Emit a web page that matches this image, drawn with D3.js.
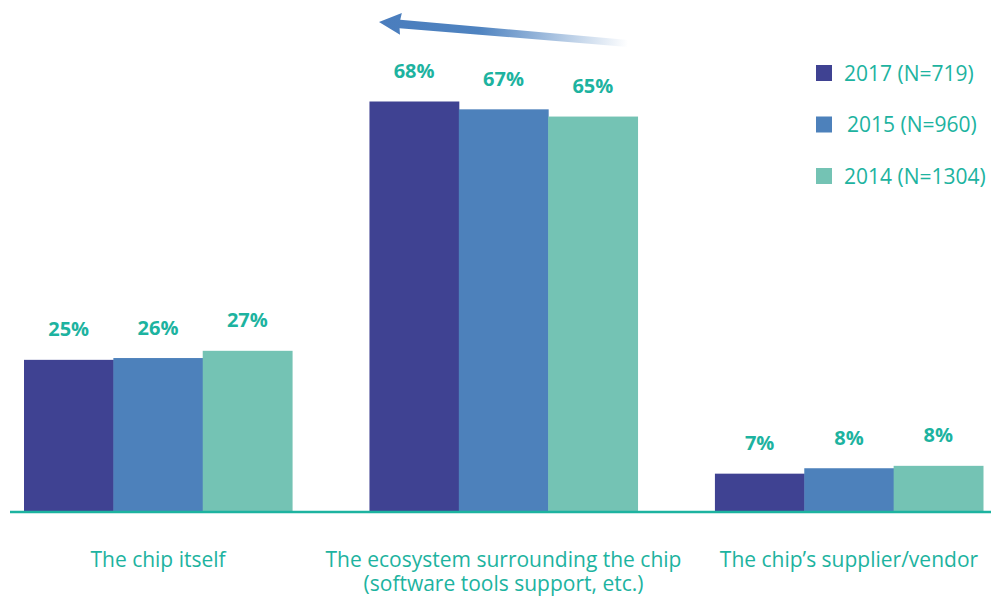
<!DOCTYPE html>
<html>
<head>
<meta charset="utf-8">
<script src="https://cdn.jsdelivr.net/npm/d3@7"></script>
<style>
  body { margin: 0; background: #fff; }
  text { font-family: "Open Sans", sans-serif; }
</style>
</head>
<body>
<div id="chart"></div>
<script>
// categories on the x axis (each can wrap onto two lines)
const categories = [
  ["The chip itself"],
  ["The ecosystem surrounding the chip", "(software tools support, etc.)"],
  ["The chip\u2019s supplier/vendor"]
]
const seriesNames = ["2017 (N=719)", "2015 (N=960)", "2014 (N=1304)"]
// bar heights
const values2017 = [25.1, 68, 6.2]
const values2015 = [25.4, 66.7, 7.1]
const values2014 = [26.6, 65.5, 7.5]
// printed labels above the bars
const labels2017 = ["25%", "68%", "7%"]
const labels2015 = ["26%", "67%", "8%"]
const labels2014 = ["27%", "65%", "8%"]

const colors = ["#3f4292", "#4d81bb", "#74c3b4"]
const teal = "#1db3a0"

var width = 991, height = 596
var baseY = 511

var svg = d3.select("#chart")
  .append("svg")
    .attr("width", width)
    .attr("height", height)

// build rows per series
var series = seriesNames.map(function(name, i) {
  var vals = [values2017, values2015, values2014][i]
  var labs = [labels2017, labels2015, labels2014][i]
  return { name: name, color: colors[i], values: vals, labels: labs }
})

var x0 = d3.scaleBand()
  .domain(d3.range(categories.length))
  .range([24, 983])
  .paddingInner(0.224)
  .paddingOuter(0)

var x1 = d3.scaleBand()
  .domain(d3.range(seriesNames.length))
  .range([0, x0.bandwidth()])
  .padding(0)

var y = d3.scaleLinear()
  .domain([0, 68])
  .range([baseY, 101.5])

// gradient for the trend arrow (local coords of the rotated group)
var defs = svg.append("defs")
var grad = defs.append("linearGradient")
  .attr("id", "arrowGrad")
  .attr("gradientUnits", "userSpaceOnUse")
  .attr("x1", 0).attr("y1", 0)
  .attr("x2", 250).attr("y2", 0)
grad.append("stop").attr("offset", "0%").attr("stop-color", "#4a7dbd")
grad.append("stop").attr("offset", "40%").attr("stop-color", "#4f83c0")
grad.append("stop").attr("offset", "100%").attr("stop-color", "#4f83c0").attr("stop-opacity", 0)

// arrow: shaft + head, slightly tilted
var arrow = svg.append("g")
  .attr("transform", "translate(379,22) rotate(4.8)")
arrow.append("path")
  .attr("d", "M0,0 L22,-11 L21,-4 L250,-3 L250,4 L21,4.5 L22,11 Z")
  .attr("fill", "url(#arrowGrad)")

// bars
var groups = svg.selectAll(".grp")
  .data(series)
  .enter()
  .append("g")
    .attr("class", "grp")

groups.each(function(s, si) {
  var g = d3.select(this)
  g.selectAll("rect")
    .data(s.values)
    .enter()
    .append("rect")
      .attr("x", function(d, ci) { return x0(ci) + x1(si) })
      .attr("y", function(d) { return y(d) })
      .attr("width", x1.bandwidth() + 0.5)
      .attr("height", function(d) { return baseY - y(d) })
      .attr("fill", s.color)

  g.selectAll("text")
    .data(s.values)
    .enter()
    .append("text")
      .attr("x", function(d, ci) { return x0(ci) + x1(si) + x1.bandwidth() / 2 })
      .attr("y", function(d) { return y(d) - 23.5 })
      .attr("text-anchor", "middle")
      .style("font-size", "20px")
      .style("font-weight", "bold")
      .style("fill", teal)
      .text(function(d, ci) { return s.labels[ci] })
})

// baseline
svg.append("line")
  .attr("x1", 10).attr("x2", 991)
  .attr("y1", baseY + 1).attr("y2", baseY + 1)
  .attr("stroke", teal)
  .attr("stroke-width", 2.5)

// category labels
categories.forEach(function(lines, ci) {
  var t = svg.append("text")
    .attr("x", x0(ci) + x0.bandwidth() / 2)
    .attr("y", 567)
    .attr("text-anchor", "middle")
    .style("font-size", "21px")
    .style("fill", teal)
  lines.forEach(function(line, li) {
    t.append("tspan")
      .attr("x", x0(ci) + x0.bandwidth() / 2)
      .attr("dy", li == 0 ? 0 : 24)
      .text(line)
  })
})

// legend
var legend = svg.selectAll(".leg")
  .data(series)
  .enter()
  .append("g")
    .attr("class", "leg")
    .attr("transform", function(d, i) { return "translate(816," + (65 + i * 51.5) + ")" })
legend.append("rect")
  .attr("width", 16).attr("height", 16)
  .attr("fill", function(d) { return d.color })
legend.append("text")
  .attr("x", function(d, i) { return i == 1 ? 31 : 28 })
  .attr("y", 15.5)
  .style("font-size", "21px")
  .style("fill", teal)
  .text(function(d) { return d.name })
</script>
</body>
</html>
